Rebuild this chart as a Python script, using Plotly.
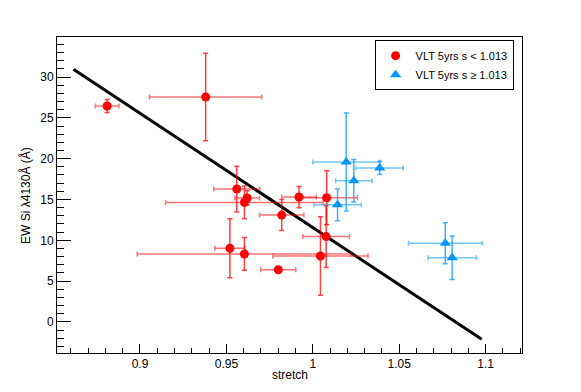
import plotly.graph_objects as go

# VLT 5yrs, s < 1.013
red_stretch = [0.881, 0.938, 0.956, 0.962, 0.9604, 0.992, 1.008, 0.982, 1.0077, 1.0044, 0.952, 0.9604, 0.980]
red_ew = [26.45, 27.55, 16.28, 15.18, 14.64, 15.30, 15.21, 13.09, 10.46, 8.08, 9.03, 8.33, 6.40]
red_stretch_err = [0.0068, 0.0325, 0.0133, 0.0072, 0.0456, 0.010, 0.0177, 0.0128, 0.0135, 0.0275, 0.0087, 0.062, 0.0101]
red_ew_err = [0.8, 5.35, 2.8, 0.9, 2.0, 1.3, 3.3, 1.9, 3.8, 4.8, 3.6, 2.0, 0.3]

# VLT 5yrs, s >= 1.013
blue_stretch = [1.0193, 1.0387, 1.0237, 1.0143, 1.0766, 1.0806]
blue_ew = [19.6, 18.87, 17.3, 14.35, 9.64, 7.87]
blue_stretch_err = [0.0193, 0.0136, 0.0105, 0.0137, 0.0213, 0.014]
blue_ew_err = [6.0, 0.8, 2.6, 1.95, 2.5, 2.66]

# linear fit
fit_stretch = [0.8615, 1.0977]
fit_ew = [30.96, -2.13]

RED = "#ff0000"
BLUE = "#0096ff"
FONT = "Liberation Sans, Arial, Helvetica, sans-serif"

fig = go.Figure()

fig.add_trace(go.Scatter(
    x=fit_stretch, y=fit_ew, mode="lines",
    line=dict(color="black", width=3), showlegend=False, hoverinfo="skip",
))

fig.add_trace(go.Scatter(
    x=red_stretch, y=red_ew, mode="markers", name="VLT 5yrs s < 1.013",
    marker=dict(symbol="circle", size=9, color=RED),
    error_x=dict(type="data", array=red_stretch_err, color="rgba(255,0,0,0.55)", thickness=1.5, width=2.5),
    error_y=dict(type="data", array=red_ew_err, color="rgba(255,0,0,0.75)", thickness=1.5, width=2.5),
))

fig.add_trace(go.Scatter(
    x=blue_stretch, y=blue_ew, mode="markers", name="VLT 5yrs s \u2265 1.013",
    marker=dict(symbol="triangle-up", size=10, color=BLUE),
    error_x=dict(type="data", array=blue_stretch_err, color="rgba(0,150,255,0.55)", thickness=1.5, width=2.5),
    error_y=dict(type="data", array=blue_ew_err, color="rgba(0,150,255,0.75)", thickness=1.5, width=2.5),
))

axis_common = dict(
    showline=True, linecolor="black", linewidth=1, mirror=True,
    showgrid=False, zeroline=False,
    ticks="inside", tickcolor="black",
    tickfont=dict(family=FONT, size=12, color="black"),
)

fig.update_xaxes(
    range=[0.852, 1.121], tick0=0.9, dtick=0.05, ticklen=9,
    minor=dict(ticks="inside", dtick=0.01, ticklen=5, tickcolor="black"),
    **axis_common,
)
fig.update_yaxes(
    range=[-3.8, 34.9], tick0=0, dtick=5, ticklen=14,
    minor=dict(ticks="inside", dtick=1, ticklen=7, tickcolor="black"),
    **axis_common,
)

# the page adds an 8px body margin, so the margins are shifted by that
fig.update_layout(
    width=581, height=392,
    margin=dict(l=49, r=67, t=29, b=47),
    plot_bgcolor="white", paper_bgcolor="white",
    font=dict(family=FONT, size=12, color="black"),
    legend=dict(
        x=0.683, y=0.99, xanchor="left", yanchor="top",
        bgcolor="white", bordercolor="black", borderwidth=1,
        font=dict(family=FONT, size=11, color="black"),
        tracegroupgap=0,
    ),
    annotations=[
        dict(text="stretch", xref="paper", yref="paper", x=0.5, y=-0.07,
             xanchor="center", yanchor="middle", showarrow=False,
             font=dict(family=FONT, size=12)),
        dict(text="EW Si \u03bb4130\u00c5 (\u00c5)", xref="paper", yref="paper", x=-0.069, y=0.5,
             xanchor="center", yanchor="middle", showarrow=False, textangle=-90,
             font=dict(family=FONT, size=12)),
    ],
)

fig.write_html("out.html")
